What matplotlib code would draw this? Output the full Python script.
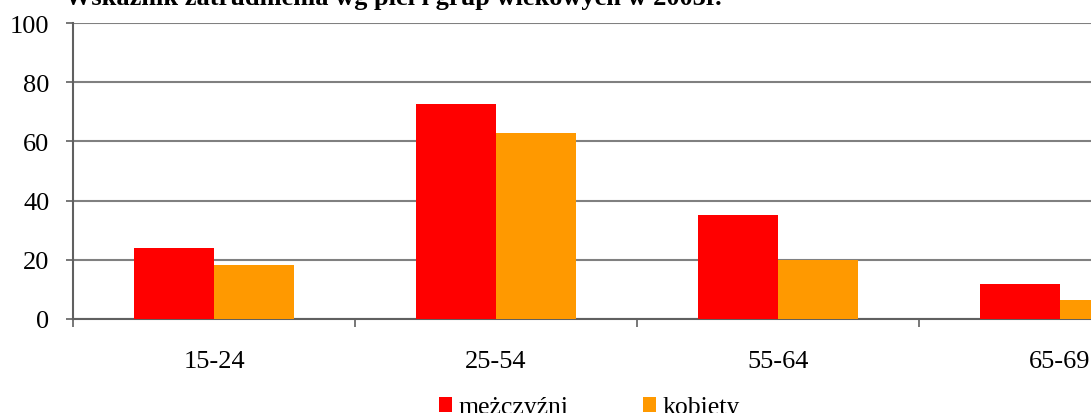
import numpy as np
import matplotlib.pyplot as plt
from matplotlib.ticker import FixedLocator

plt.rcParams['font.family'] = ['Liberation Serif', 'DejaVu Serif']

# wskaźnik zatrudnienia wg płci i grup wiekowych
grupy = ['15-24', '25-54', '55-64', '65-69']
mezczyzni = [24.0, 72.8, 35.2, 11.8]
kobiety = [18.3, 63.0, 20.0, 6.5]

fig = plt.figure(figsize=(10.91, 4.14), dpi=100)
# axes run past the right edge of the figure, last group is cut off
ax = fig.add_axes([0.0669, 0.2271, 1.1008 - 0.0669, 0.942 - 0.2271])

x = np.arange(len(grupy))
w = 0.284
b1 = ax.bar(x - w / 2, mezczyzni, w, color='#ff0000', zorder=3, label='mężczyźni')
b2 = ax.bar(x + w / 2, kobiety, w, color='#ff9900', zorder=3, label='kobiety')

ax.set_xlim(-0.5, len(grupy) - 0.5)
ax.set_ylim(0, 100)
ax.set_yticks(range(0, 101, 20))
ax.yaxis.grid(True, color='#808080', linewidth=1.5, zorder=0)
ax.tick_params(axis='y', labelsize=19, length=5, width=1.2, color='#606060', pad=12)

ax.set_xticks(x)
ax.set_xticklabels(grupy)
ax.xaxis.set_minor_locator(FixedLocator(np.arange(-0.5, len(grupy), 1)))
ax.tick_params(axis='x', which='major', length=0, labelsize=19, pad=22)
ax.tick_params(axis='x', which='minor', length=6, width=1.2, color='#606060')

for s in ['top', 'right']:
    ax.spines[s].set_visible(False)
for s in ['left', 'bottom']:
    ax.spines[s].set_color('#606060')
    ax.spines[s].set_linewidth(1.5)

fig.legend(handles=[b1, b2], loc='lower left', bbox_to_anchor=(0.393, -0.038),
           ncol=2, frameon=False, fontsize=18.5, handlelength=0.5, handleheight=0.5,
           handletextpad=0.25, columnspacing=2.9, borderaxespad=0)

fig.text(0.06, 0.988, 'Wskaźnik zatrudnienia wg płci i grup wiekowych w 2003r.',
         fontsize=19, fontweight='bold', va='baseline', ha='left')

fig.savefig('out.png', dpi=100)
